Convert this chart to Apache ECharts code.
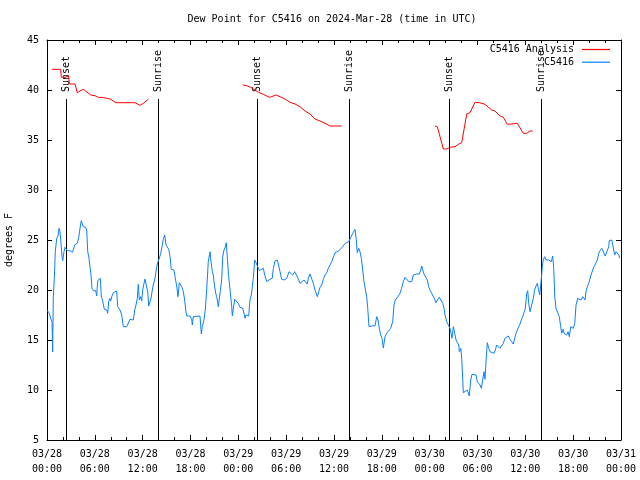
<!DOCTYPE html>
<html>
<head>
<meta charset="utf-8">
<script src="https://cdn.jsdelivr.net/npm/echarts@6/dist/echarts.min.js"></script>
<style>
html,body{margin:0;padding:0;background:#fff;}
#chart{width:640px;height:480px;}
</style>
</head>
<body>
<div id="chart"></div>
<script>
// Hours since 2024-03-28 00:00 UTC
const startLabelDay = 28;
const xTickHours = [0, 6, 12, 18, 24, 30, 36, 42, 48, 54, 60, 66, 72];

// C5416 Analysis (red), three segments separated by gaps
const redHours = [0.63,1.72,1.79,2.26,2.35,2.72,2.80,3.51,3.80,4.14,4.55,4.85,5.48,6.02,6.44,7.06,7.90,8.66,11.04,11.67,12.08,12.71,
  18.5,
  24.55,25.05,25.55,26.09,26.51,27.13,27.89,28.19,28.69,29.23,29.86,30.48,31.11,31.74,32.36,32.99,33.62,34.25,34.87,35.50,36.97,
  42.5,
  48.67,48.96,49.71,50.14,50.55,51.18,51.59,52.02,52.65,53.06,53.69,54.23,54.94,55.78,56.20,56.82,57.24,57.74,58.29,58.99,59.75,60.17,60.59,60.93];
const redVals = [42.07,42.07,41.27,41.27,41.4,41.4,40.6,40.6,39.73,39.9,40.07,39.9,39.5,39.43,39.27,39.25,39.1,38.73,38.73,38.47,38.67,39.07,
  '-',
  40.5,40.43,40.27,40.0,39.77,39.57,39.27,39.33,39.5,39.33,39.1,38.77,38.6,38.33,37.9,37.6,37.1,36.9,36.67,36.4,36.4,
  '-',
  36.4,36.33,34.1,34.1,34.27,34.33,34.57,34.73,37.6,37.73,38.77,38.73,38.57,38.0,37.9,37.4,37.27,36.57,36.6,36.67,35.67,35.67,35.9,35.9];

// C5416 observations (blue)
const blueHours = [0.0,0.13,0.29,0.46,0.63,0.71,0.79,0.92,1.04,1.22,1.38,1.51,1.63,1.76,1.88,1.97,2.13,2.26,2.38,2.55,2.89,3.01,3.17,3.30,3.47,3.64,3.80,3.98,4.14,4.30,4.43,4.55,4.85,4.98,5.11,5.27,5.39,5.52,5.64,5.81,5.93,6.11,6.23,6.36,6.52,6.69,6.81,6.94,7.06,7.19,7.36,7.49,7.61,7.74,7.87,7.99,8.15,8.32,8.49,8.74,8.87,9.03,9.16,9.37,9.57,9.78,10.00,10.20,10.41,10.62,10.83,11.00,11.16,11.33,11.45,11.58,11.75,11.88,12.00,12.17,12.29,12.51,12.63,12.76,12.92,13.05,13.21,13.33,13.55,13.76,13.92,14.09,14.26,14.43,14.59,14.76,14.93,15.09,15.27,15.43,15.59,15.77,15.93,16.09,16.27,16.43,16.60,16.77,16.93,17.10,17.27,17.40,17.52,17.94,18.15,18.23,18.35,19.19,19.36,19.48,19.69,19.86,20.03,20.23,20.45,20.57,20.74,20.86,20.99,21.16,21.29,21.49,21.70,
  21.91,22.04,22.20,22.37,22.49,22.62,22.79,22.96,23.17,23.25,23.38,23.55,23.80,24.00,24.21,24.55,24.71,24.84,24.96,25.13,25.30,25.46,25.63,25.75,25.88,26.05,26.22,26.38,26.63,26.88,27.13,27.31,27.56,27.76,27.97,28.26,28.39,28.60,28.89,29.06,29.23,29.44,29.73,30.07,30.36,30.57,30.82,31.07,31.32,31.49,31.74,31.99,32.24,32.49,32.65,32.78,32.99,33.20,33.40,33.62,33.74,33.91,34.08,34.25,34.46,34.66,34.87,35.09,35.29,35.50,35.71,35.91,36.13,36.34,36.59,36.75,36.97,37.17,37.42,37.59,37.85,38.10,38.35,38.64,38.80,38.92,39.10,39.26,39.43,39.60,39.76,39.93,40.10,40.23,40.39,40.61,40.86,41.14,41.36,41.52,41.68,41.86,42.02,42.19,42.40,42.61,42.81,43.11,43.36,43.53,43.69,43.87,44.03,
  44.28,44.49,44.69,44.91,45.12,45.39,45.75,45.95,46.38,46.70,46.88,47.00,47.13,47.29,47.54,47.70,47.88,48.04,48.26,48.46,48.63,48.80,48.96,49.21,49.46,49.64,49.80,49.93,50.14,50.34,50.55,50.68,50.80,50.97,51.14,51.31,51.47,51.65,51.72,51.90,52.02,52.15,52.22,52.47,52.72,52.90,52.97,53.15,53.31,53.56,53.81,53.98,54.15,54.32,54.48,54.65,54.82,54.94,55.07,55.23,55.41,55.57,55.82,56.07,56.24,56.41,56.61,56.82,57.04,57.24,57.45,57.67,57.87,58.08,58.29,58.49,58.71,58.83,58.99,59.17,59.33,59.50,59.67,59.84,60.00,60.17,60.30,60.42,60.59,60.71,60.84,61.00,61.18,61.34,61.50,61.68,61.80,61.88,62.01,62.13,62.26,62.43,62.59,62.76,62.93,63.10,63.26,63.43,63.56,63.69,63.85,64.10,64.26,64.44,64.56,64.73,64.85,65.02,65.19,65.36,65.52,65.69,65.86,66.02,66.20,66.36,66.57,66.77,66.99,67.20,67.40,67.49,67.61,67.78,67.95,68.11,68.24,68.45,68.62,68.83,69.03,69.21,69.37,69.58,69.78,70.03,70.28,70.46,70.53,70.84,71.04,71.21,71.38,71.54,71.72,71.84];
const blueVals = [18.0,17.9,17.67,17.17,16.83,13.8,19.33,21.17,23.83,25.17,25.4,26.17,25.83,24.67,23.33,22.93,23.83,24.27,24.07,23.93,23.93,24.0,23.77,24.0,24.5,24.33,24.67,25.27,26.17,26.93,26.6,26.33,26.27,26.0,23.83,23.17,22.33,21.5,20.17,19.93,20.07,19.93,19.4,20.93,21.1,21.17,19.33,19.07,19.0,18.07,18.0,18.0,17.67,18.83,19.17,18.9,19.4,19.73,19.9,19.9,18.33,18.17,18.0,17.5,16.33,16.23,16.33,16.4,17.07,17.0,17.0,18.0,18.5,19.17,20.57,19.0,19.33,18.9,20.0,20.67,21.1,21.1,19.83,18.4,18.4,19.17,20.0,20.5,21.17,22.33,22.83,23.17,23.67,24.33,25.07,25.5,24.5,24.5,24.07,23.33,22.07,21.9,22.0,21.17,20.4,19.33,20.73,20.5,20.27,19.83,19.0,18.0,17.4,17.4,17.07,16.5,17.33,17.4,15.6,16.33,17.0,18.07,20.0,22.83,23.83,22.83,21.83,21.5,20.57,19.67,19.33,18.33,18.17,
  21.0,23.33,24.0,24.3,24.73,23.17,21.33,20.0,18.33,17.4,18.2,19.07,19.0,18.67,18.27,18.17,17.67,17.17,17.5,17.33,17.4,19.0,19.5,19.6,21.17,23.0,22.73,22.83,21.93,21.93,22.17,21.5,20.83,21.0,21.07,21.17,22.17,22.9,23.0,23.07,21.83,21.07,21.0,21.17,21.83,21.67,21.5,21.83,21.83,21.17,20.67,20.83,21.0,20.93,20.6,21.17,21.6,21.5,20.67,20.0,20.17,19.33,19.83,20.27,20.5,21.07,21.5,21.73,22.17,22.5,22.83,23.0,23.73,23.83,23.9,24.07,24.23,24.4,24.67,24.83,24.83,25.0,25.67,26.07,25.0,23.73,24.17,23.83,23.17,22.0,20.83,20.07,19.33,18.17,16.33,16.4,16.43,16.4,17.33,17.0,16.17,15.5,15.17,14.2,15.33,15.67,15.83,16.17,16.83,18.5,19.0,18.83,19.33,
  19.67,20.17,20.83,21.27,21.27,20.83,20.83,21.5,21.6,21.6,22.0,22.4,22.0,21.6,21.5,21.0,20.33,20.0,19.67,19.5,19.07,18.73,19.0,19.27,19.27,18.67,18.17,17.5,16.83,16.67,16.17,15.67,15.17,16.33,15.67,15.0,14.83,14.5,13.83,14.17,13.17,11.0,9.73,9.83,10.0,10.07,9.4,11.0,11.57,11.57,11.5,10.83,11.0,10.5,10.17,11.0,11.83,11.07,12.83,14.73,14.17,13.83,13.67,13.67,14.0,14.5,14.33,14.17,14.33,14.67,15.17,15.33,15.4,15.07,14.83,14.6,14.5,15.67,16.0,16.33,16.6,17.0,17.33,17.33,18.17,19.67,19.93,18.67,17.83,17.67,18.0,19.17,20.07,20.4,20.67,20.83,19.5,20.0,21.17,22.33,23.07,23.33,23.0,23.17,23.0,23.17,22.83,23.4,22.17,19.33,18.17,18.17,17.33,16.33,15.67,16.07,15.67,15.5,15.5,15.83,15.33,16.33,16.4,16.17,16.67,18.5,19.17,19.27,19.0,19.33,19.5,19.0,19.83,20.33,20.67,20.83,21.5,22.0,22.33,22.5,23.0,23.67,23.93,24.17,24.0,23.4,23.4,24.33,24.93,25.0,24.83,23.5,23.83,24.0,23.5,23.17];

// Sunrise / sunset markers
const sunHours = [2.42, 13.96, 26.38, 37.92, 50.46, 62.0];
const sunLabels = ['Sunset', 'Sunrise', 'Sunset', 'Sunrise', 'Sunset', 'Sunrise'];

const FONT = '"DejaVu Sans Mono", "Liberation Mono", monospace';
const FS = 10;

function pad(n){ return (n < 10 ? '0' : '') + n; }
function fmtHour(v){
  const day = startLabelDay + Math.floor(v / 24 + 1e-9);
  const hr = Math.round(v - (day - startLabelDay) * 24);
  return '03/' + pad(day) + '\n' + pad(hr) + ':00';
}

const chart = echarts.init(document.getElementById('chart'), null, {renderer: 'canvas'});

const tickCommon = {inside: true, length: 5, lineStyle: {color: '#000', width: 1}};
const axisLineCommon = {show: true, onZero: false, lineStyle: {color: '#000', width: 1}};

const option = {
  animation: false,
  backgroundColor: '#fff',
  title: {
    text: 'Dew Point for C5416 on 2024-Mar-28 (time in UTC)',
    left: 332, top: 14, textAlign: 'center', padding: 0,
    textStyle: {fontFamily: FONT, fontSize: FS, fontWeight: 'normal', color: '#000'}
  },
  legend: {
    data: ['C5416 Analysis', 'C5416'],
    orient: 'vertical', right: 30, top: 44, align: 'right', padding: 0,
    icon: 'rect', itemWidth: 28, itemHeight: 1.2, itemGap: 1.7,
    textStyle: {fontFamily: FONT, fontSize: FS, color: '#000', lineHeight: 11, padding: [0, 3, 0, 0]}
  },
  grid: {left: 47, right: 19, top: 40, bottom: 40, containLabel: false, outerBoundsMode: 'none'},
  xAxis: [
    {
      type: 'value', position: 'bottom', min: 0, max: 72, interval: 6,
      axisLine: axisLineCommon,
      axisTick: tickCommon,
      minorTick: {show: true, splitNumber: 3, length: 3, lineStyle: {color: '#000', width: 1}},
      splitLine: {show: false},
      axisLabel: {
        color: '#000', fontFamily: FONT, fontSize: FS, margin: 7, lineHeight: 15,
        showMinLabel: true, showMaxLabel: true, hideOverlap: false,
        formatter: fmtHour
      }
    },
    {
      type: 'value', position: 'top', min: 0, max: 72, interval: 6,
      axisLine: axisLineCommon,
      axisTick: tickCommon,
      minorTick: {show: true, splitNumber: 3, length: 3, lineStyle: {color: '#000', width: 1}},
      splitLine: {show: false},
      axisLabel: {show: false}
    }
  ],
  yAxis: [
    {
      type: 'value', position: 'left', min: 5, max: 45, interval: 5,
      name: 'degrees F', nameLocation: 'middle', nameRotate: 90, nameGap: 33,
      nameTextStyle: {fontFamily: FONT, fontSize: FS, color: '#000'},
      axisLine: axisLineCommon,
      axisTick: tickCommon,
      splitLine: {show: false},
      axisLabel: {color: '#000', fontFamily: FONT, fontSize: FS, margin: 8}
    },
    {
      type: 'value', position: 'right', min: 5, max: 45, interval: 5,
      axisLine: axisLineCommon,
      axisTick: tickCommon,
      splitLine: {show: false},
      axisLabel: {show: false}
    }
  ],
  series: [
    {
      name: 'C5416 Analysis', type: 'line', xAxisIndex: 0, yAxisIndex: 0,
      data: redHours.map((h, i) => [h, redVals[i]]),
      symbol: 'none', connectNulls: false,
      lineStyle: {color: '#ff0000', width: 1}, itemStyle: {color: '#ff0000'}
    },
    {
      name: 'C5416', type: 'line', xAxisIndex: 0, yAxisIndex: 0,
      data: blueHours.map((h, i) => [h, blueVals[i]]),
      symbol: 'none',
      lineStyle: {color: '#0a80ff', width: 1}, itemStyle: {color: '#0a80ff'}
    },
    {
      type: 'custom', xAxisIndex: 0, yAxisIndex: 0, silent: true,
      data: sunHours.map(h => [h, 5]),
      encode: {x: 0, y: 1},
      renderItem: function (params, api) {
        const h = api.value(0);
        const p0 = api.coord([h, 5]);
        const p1 = api.coord([h, 39.1]);
        const lx = Math.round(p0[0]) + 0.5;
        return {
          type: 'group',
          children: [
            {type: 'line', shape: {x1: lx, y1: p0[1], x2: lx, y2: p1[1]},
             style: {stroke: '#000', lineWidth: 1}},
            {type: 'text', x: lx, y: p1[1] - 7, rotation: Math.PI / 2,
             style: {text: sunLabels[params.dataIndex], textAlign: 'left', textVerticalAlign: 'middle',
                     fill: '#000', font: FS + 'px ' + FONT}}
          ]
        };
      }
    }
  ]
};
chart.setOption(option);
</script>
</body>
</html>
